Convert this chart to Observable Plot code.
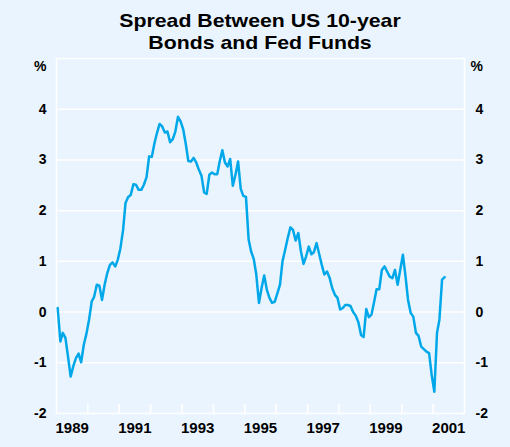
<!DOCTYPE html>
<html>
<head>
<meta charset="utf-8">
<script src="https://cdn.jsdelivr.net/npm/d3@7"></script>
<script src="https://cdn.jsdelivr.net/npm/@observablehq/plot@0.6"></script>
<style>
  body { margin: 0; background: #eaf4fe; width: 510px; height: 447px; overflow: hidden; }
  #title { height: 56px; box-sizing: border-box; padding-top: 10px; text-align: center; width: 520px;
           font: bold 19px/22px "Liberation Sans", Arial, sans-serif; color: #000;
           transform: scaleX(1.12); transform-origin: 260px 0; }
</style>
</head>
<body>
<div id="title">Spread Between US 10-year<br>Bonds and Fed Funds</div>
<div id="chart"></div>
<script>
// Monthly spread (10-year bond yield minus Fed funds), % points, from Jan 1989
const startYear = 1989;
const spread = [
  0.08, -0.58, -0.41, -0.51, -0.88, -1.27, -1.07, -0.91, -0.82, -0.99, -0.64, -0.43,
  -0.15, 0.21, 0.30, 0.54, 0.52, 0.24, 0.54, 0.77, 0.93, 0.98, 0.90, 1.03,
  1.26, 1.62, 2.15, 2.27, 2.31, 2.52, 2.51, 2.41, 2.41, 2.51, 2.66, 3.07,
  3.06, 3.33, 3.53, 3.71, 3.66, 3.54, 3.56, 3.35, 3.41, 3.56, 3.85, 3.76,
  3.60, 3.30, 2.98, 2.97, 3.04, 2.95, 2.81, 2.69, 2.36, 2.33, 2.71, 2.75,
  2.72, 2.72, 2.97, 3.19, 2.95, 2.87, 3.02, 2.49, 2.71, 2.97, 2.43, 2.29,
  2.27, 1.43, 1.20, 1.05, 0.74, 0.18, 0.47, 0.72, 0.44, 0.28, 0.18, 0.20,
  0.37, 0.54, 1.00, 1.23, 1.46, 1.67, 1.62, 1.41, 1.56, 1.20, 0.95, 1.10,
  1.29, 1.14, 1.18, 1.36, 1.15, 0.93, 0.74, 0.80, 0.67, 0.47, 0.34, 0.28,
  0.05, 0.08, 0.14, 0.14, 0.12, 0.00, -0.07, -0.20, -0.45, -0.49, 0.06, -0.10,
  -0.05, 0.21, 0.45, 0.45, 0.83, 0.90, 0.80, 0.70, 0.67, 0.83, 0.54, 0.83,
  1.13, 0.70, 0.24, -0.02, -0.09, -0.41, -0.47, -0.68, -0.73, -0.78, -0.81, -1.24,
  -1.57, -0.41, -0.15, 0.64, 0.69
];
const yTicks = [-2, -1, 0, 1, 2, 3, 4];
const gridValues = [-1, 0, 1, 2, 3, 4];
const yearTicks = d3.range(1990, 2002);
const yearLabels = [1989, 1991, 1993, 1995, 1997, 1999, 2001];
const yDomain = [-2, 5];
const xDomainYears = [1989, 2002];

const data = spread.map((v, i) => ({date: new Date(Date.UTC(startYear, i, 15)), value: v}));
const tickDates = yearTicks.map(y => new Date(Date.UTC(y, 0, 1)));
const labelDates = yearLabels.map(y => new Date(Date.UTC(y, 6, 2)));

const font = "'Liberation Sans', Arial, sans-serif";
const lineColor = "#00a8ea";

const chart = Plot.plot({
  width: 510,
  height: 391,
  marginTop: 2,
  marginBottom: 34,
  marginLeft: 56,
  marginRight: 46,
  style: {background: "transparent", fontFamily: font, color: "#000", overflow: "visible"},
  x: {type: "utc", domain: xDomainYears.map(y => new Date(Date.UTC(y, 0, 1)))},
  y: {domain: yDomain},
  marks: [
    Plot.gridY(gridValues, {stroke: "white", strokeOpacity: 1, strokeWidth: 1.5}),
    Plot.frame({stroke: "white", strokeWidth: 1.5}),
    Plot.axisX(tickDates, {stroke: "white", strokeWidth: 1.5, tickSize: 9, dy: -9, tickFormat: () => "", label: null}),
    Plot.axisX(labelDates, {tickSize: 0, tickPadding: 9, tickFormat: d => String(d.getUTCFullYear()),
      fontSize: 15, fontWeight: "bold", label: null}),
    Plot.axisY(yTicks, {anchor: "left", tickSize: 0, tickPadding: 10, fontSize: 14, fontWeight: "bold", label: null,
      tickFormat: d => String(d)}),
    Plot.axisY(yTicks, {anchor: "right", tickSize: 0, tickPadding: 11, fontSize: 14, fontWeight: "bold", label: null,
      tickFormat: d => String(d)}),
    Plot.text(["%"], {frameAnchor: "top-left", textAnchor: "end", dx: -10, dy: 3, fontSize: 14, fontWeight: "bold"}),
    Plot.text(["%"], {frameAnchor: "top-right", textAnchor: "start", dx: 6, dy: 3, fontSize: 14, fontWeight: "bold"}),
    Plot.line(data, {x: "date", y: "value", stroke: lineColor, strokeWidth: 2.5, strokeLinejoin: "round"})
  ]
});
document.getElementById("chart").appendChild(chart);
</script>
</body>
</html>
